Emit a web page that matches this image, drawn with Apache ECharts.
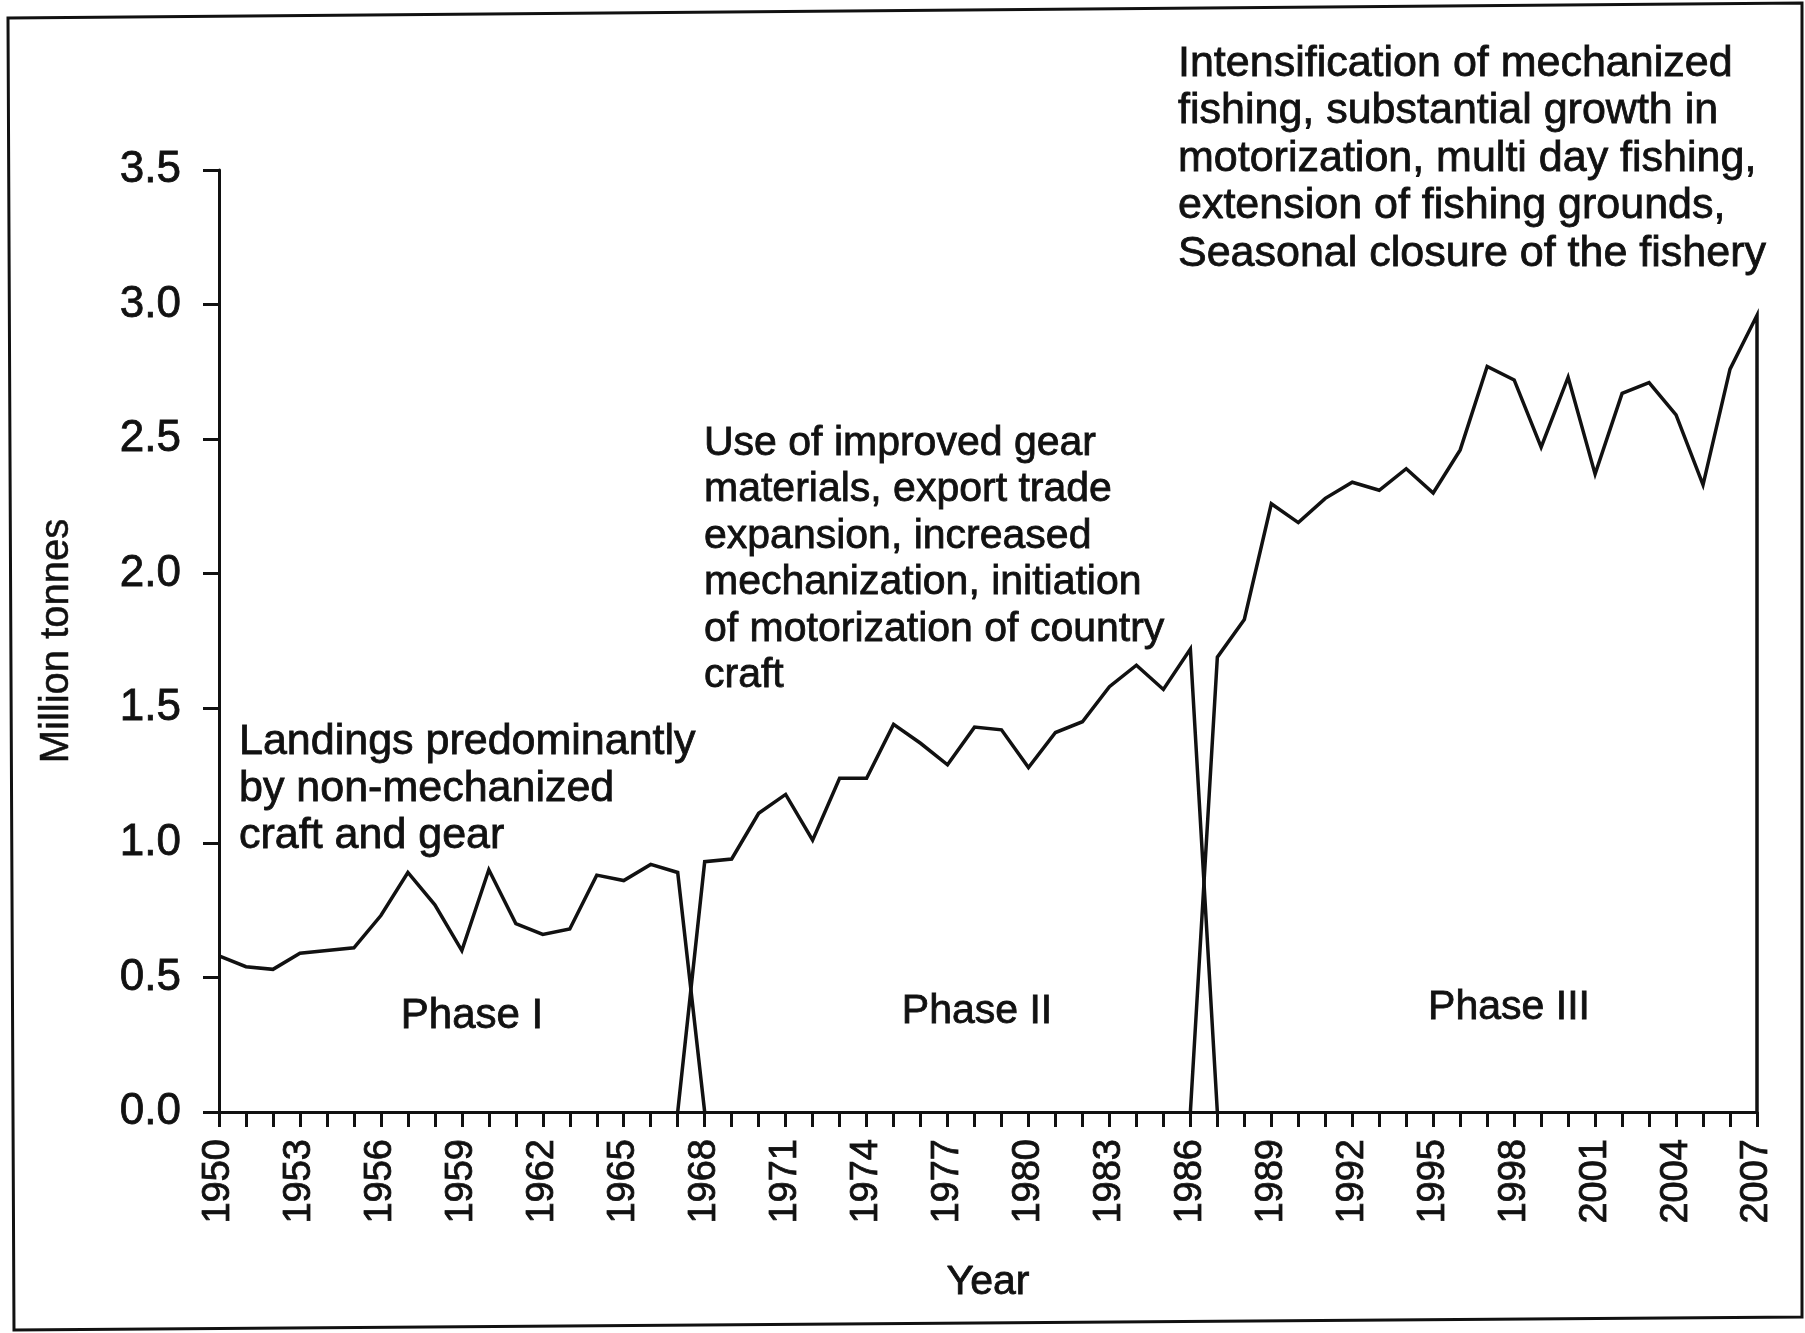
<!DOCTYPE html>
<html>
<head>
<meta charset="utf-8">
<script src="https://cdn.jsdelivr.net/npm/echarts@6/dist/echarts.min.js"></script>
<style>
  html, body { margin: 0; padding: 0; background: #fff; }
  #main { width: 1805px; height: 1333px; }
</style>
</head>
<body>
<div id="main"></div>
<script>
var myChart = echarts.init(document.getElementById('main'));

// years of each phase
var phase1Years = [1950, 1951, 1952, 1953, 1954, 1955, 1956, 1957, 1958, 1959,
                   1960, 1961, 1962, 1963, 1964, 1965, 1966, 1967];
var phase2Years = [1968, 1969, 1970, 1971, 1972, 1973, 1974, 1975, 1976, 1977,
                   1978, 1979, 1980, 1981, 1982, 1983, 1984, 1985, 1986];
var phase3Years = [1987, 1988, 1989, 1990, 1991, 1992, 1993, 1994, 1995, 1996,
                   1997, 1998, 1999, 2000, 2001, 2002, 2003, 2004, 2005, 2006, 2007];

// landings, million tonnes
var phase1Values = [0.58, 0.54, 0.53, 0.59, 0.60, 0.61, 0.73, 0.89, 0.77, 0.60,
                    0.90, 0.70, 0.66, 0.68, 0.88, 0.86, 0.92, 0.89];
var phase2Values = [0.93, 0.94, 1.11, 1.18, 1.01, 1.24, 1.24, 1.44, 1.37, 1.29,
                    1.43, 1.42, 1.28, 1.41, 1.45, 1.58, 1.66, 1.57, 1.72];
var phase3Values = [1.69, 1.83, 2.26, 2.19, 2.28, 2.34, 2.31, 2.39, 2.30, 2.46,
                    2.77, 2.72, 2.47, 2.73, 2.37, 2.67, 2.71, 2.59, 2.33, 2.76, 2.96];

var yTicks = [0, 0.5, 1.0, 1.5, 2.0, 2.5, 3.0, 3.5];
var phaseNames = ['Phase I', 'Phase II', 'Phase III'];
var notes = [
  'Landings predominantly\nby non-mechanized\ncraft and gear',
  'Use of improved gear\nmaterials, export trade\nexpansion, increased\nmechanization, initiation\nof motorization of country\ncraft',
  'Intensification of mechanized\nfishing, substantial growth in\nmotorization, multi day fishing,\nextension of fishing grounds,\nSeasonal closure of the fishery'
];

var FONT = '"Liberation Sans", Arial, Helvetica, sans-serif';
var INK = '#111';
var HEAVY = 0.8; // thickens the text a little, like the scanned print

// each phase drops to zero on the year next to it (drawn as an X at the boundaries)
function pairs(years, values, before, after) {
  var out = [];
  if (before != null) out.push([before, 0]);
  for (var i = 0; i < years.length; i++) out.push([years[i], values[i]]);
  if (after != null) out.push([after, 0]);
  return out;
}

function lineSeries(name, data) {
  return {
    name: name,
    type: 'line',
    data: data,
    symbol: 'none',
    lineStyle: { color: INK, width: 3.5, join: 'miter' },
    animation: false
  };
}

function textEl(x, y, text, size, lh, align) {
  return {
    type: 'text',
    x: x,
    y: y,
    silent: true,
    style: {
      text: text,
      fill: INK,
      font: size + 'px ' + FONT,
      lineHeight: lh,
      align: align || 'left',
      verticalAlign: 'top',
      stroke: INK,
      lineWidth: HEAVY
    }
  };
}

var option = {
  backgroundColor: '#fff',
  animation: false,
  grid: { left: 219, right: 48, top: 170, bottom: 221, containLabel: false },
  xAxis: {
    type: 'value',
    min: 1950,
    max: 2007,
    interval: 1,
    name: 'Year',
    nameLocation: 'middle',
    nameGap: 150,
    nameTextStyle: { color: INK, fontSize: 41, fontFamily: FONT, textBorderColor: INK, textBorderWidth: HEAVY },
    axisLine: { show: true, onZero: true, lineStyle: { color: INK, width: 3 } },
    axisTick: { show: true, length: 15, lineStyle: { color: INK, width: 3 } },
    axisLabel: {
      rotate: 90,
      margin: 27,
      color: INK,
      fontSize: 38,
      fontFamily: FONT,
      textBorderColor: INK,
      textBorderWidth: HEAVY,
      formatter: function (v) { return (v - 1950) % 3 === 0 ? String(v) : ''; }
    },
    splitLine: { show: false }
  },
  yAxis: {
    type: 'value',
    min: yTicks[0],
    max: yTicks[yTicks.length - 1],
    interval: 0.5,
    name: 'Million tonnes',
    nameLocation: 'middle',
    nameGap: 142,
    nameTextStyle: { color: INK, fontSize: 40, fontFamily: FONT, textBorderColor: INK, textBorderWidth: 0.5 },
    axisLine: { show: true, lineStyle: { color: INK, width: 3 } },
    axisTick: { show: true, length: 16, lineStyle: { color: INK, width: 3 } },
    axisLabel: {
      margin: 38,
      color: INK,
      fontSize: 44,
      fontFamily: FONT,
      textBorderColor: INK,
      textBorderWidth: HEAVY,
      formatter: function (v) { return v.toFixed(1); }
    },
    splitLine: { show: false }
  },
  series: [
    lineSeries(phaseNames[0], pairs(phase1Years, phase1Values, null, 1968)),
    lineSeries(phaseNames[1], pairs(phase2Years, phase2Values, 1967, 1987)),
    lineSeries(phaseNames[2], pairs(phase3Years, phase3Values, 1986, 2007))
  ],
  graphic: [
    // scanned page frame
    {
      type: 'polygon',
      silent: true,
      shape: { points: [[8, 18], [1802, 3], [1802, 1317], [14, 1330]] },
      style: { fill: null, stroke: INK, lineWidth: 3 }
    },
    textEl(239, 719, notes[0], 43, 47),
    textEl(704, 420, notes[1], 41, 46.5),
    textEl(1178, 40, notes[2], 43, 47.5),
    textEl(472, 994, phaseNames[0], 42, 44, 'center'),
    textEl(977, 990, phaseNames[1], 41, 44, 'center'),
    textEl(1509, 986, phaseNames[2], 41, 44, 'center')
  ]
};
myChart.setOption(option);
</script>
</body>
</html>
